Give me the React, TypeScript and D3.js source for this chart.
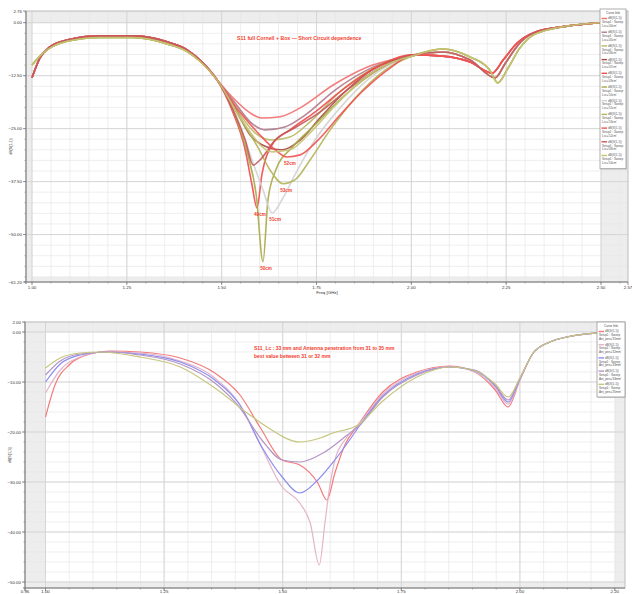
import React from "react";
import * as d3 from "d3";

type Pt = [number, number];

// ---------- top chart: S11 vs short-circuit length ----------
const topXTicks = [1.0, 1.25, 1.5, 1.75, 2.0, 2.25, 2.5];
const topYTicks = [0, -12.5, -25, -37.5, -50];

// shared shoulders of the curves (left part, right part)
const leftRed: Pt[] = [[1.0, -13.0], [1.021, -8.3], [1.047, -5.7], [1.092, -4.1], [1.179, -3.1], [1.266, -3.1], [1.356, -4.5], [1.409, -6.4], [1.451, -9.5]];
const leftOlive: Pt[] = [[1.0, -10.0], [1.029, -7.2], [1.092, -4.4], [1.179, -3.5], [1.266, -3.5], [1.356, -5.0], [1.409, -6.8], [1.443, -9.1]];
const rightA: Pt[] = [[2.083, -7.9], [2.155, -9.3], [2.213, -11.9], [2.242, -8.8], [2.279, -4.8], [2.321, -2.4], [2.41, -0.8], [2.5, 0.0]];
const rightB: Pt[] = [[2.083, -6.9], [2.155, -8.8], [2.221, -13.0], [2.247, -9.7], [2.281, -5.3], [2.323, -2.4], [2.41, -0.8], [2.5, 0.0]];
const rightC: Pt[] = [[2.083, -6.2], [2.155, -8.1], [2.207, -11.2], [2.228, -14.2], [2.255, -10.7], [2.286, -6.0], [2.326, -2.7], [2.41, -0.8], [2.5, 0.0]];

const midS1: Pt[] = [[1.488, -13.5], [1.535, -18.2], [1.575, -21.3], [1.606, -22.5], [1.654, -22.2], [1.707, -20.1], [1.794, -14.7], [1.883, -10.5], [1.97, -8.3], [2.004, -7.6]];
const midS2: Pt[] = [[1.488, -13.5], [1.535, -18.9], [1.575, -23.4], [1.614, -25.3], [1.667, -24.6], [1.72, -21.8], [1.799, -15.9], [1.883, -11.2], [1.97, -8.3], [2.004, -7.6]];
const midS3: Pt[] = [[1.488, -13.5], [1.54, -20.6], [1.588, -26.0], [1.633, -27.7], [1.68, -27.0], [1.733, -23.4], [1.812, -16.3], [1.891, -11.2], [1.97, -8.3], [2.004, -7.8]];
const midS4: Pt[] = [[1.488, -13.5], [1.535, -20.1], [1.575, -26.5], [1.606, -28.8], [1.659, -30.0], [1.707, -27.7], [1.759, -22.5], [1.825, -16.3], [1.896, -11.2], [2.004, -7.8]];
const midS5: Pt[] = [[1.488, -13.5], [1.527, -20.6], [1.562, -30.0], [1.58, -38.3], [1.593, -43.7], [1.606, -35.9], [1.633, -28.8], [1.68, -25.3], [1.746, -21.1], [1.825, -15.4], [1.904, -10.7], [2.004, -7.6]];
const midS6: Pt[] = [[1.488, -13.5], [1.535, -21.8], [1.569, -31.2], [1.591, -40.6], [1.609, -56.4], [1.622, -41.8], [1.643, -34.7], [1.685, -29.5], [1.746, -24.1], [1.825, -17.1], [1.912, -11.2], [2.004, -7.8]];
const midS7: Pt[] = [[1.488, -13.5], [1.543, -22.9], [1.58, -32.4], [1.609, -39.5], [1.633, -44.9], [1.659, -41.8], [1.693, -35.9], [1.746, -27.7], [1.812, -20.1], [1.891, -13.0], [2.004, -7.8]];
const midS8: Pt[] = [[1.488, -13.5], [1.548, -22.5], [1.596, -29.5], [1.627, -34.7], [1.662, -38.0], [1.693, -37.1], [1.733, -32.4], [1.786, -25.3], [1.852, -17.8], [1.931, -11.2], [2.004, -7.8]];
const midS9: Pt[] = [[1.488, -13.5], [1.548, -21.1], [1.601, -26.5], [1.641, -30.0], [1.672, -31.7], [1.707, -31.2], [1.754, -27.7], [1.812, -21.8], [1.87, -16.3], [1.944, -10.7], [2.004, -7.6]];
const midS10: Pt[] = [[1.488, -13.5], [1.53, -20.6], [1.562, -27.7], [1.583, -33.6], [1.601, -32.4], [1.641, -27.7], [1.693, -24.8], [1.759, -21.1], [1.838, -15.4], [1.917, -10.7], [2.004, -7.6]];
const midS11: Pt[] = [[1.488, -13.5], [1.54, -21.1], [1.575, -25.8], [1.601, -28.8], [1.633, -30.5], [1.68, -30.0], [1.733, -26.0], [1.799, -19.6], [1.87, -13.5], [1.944, -9.5], [2.004, -7.8]];

const topLengths = ["44cm", "45cm", "46cm", "47cm", "49cm", "50cm", "51cm", "53cm", "52cm", "48cm", "54cm"];
const topMarked = [false, false, false, false, true, true, true, true, true, false, false];
const topColors = ["#f27070", "#b07a8c", "#b9b964", "#a8483e", "#f04a4a", "#a8a848", "#d2d2d2", "#b2b256", "#f25252", "#c45656", "#c4c474"];

const topSeries: Pt[][] = [
  [...leftRed, ...midS1, ...rightA],
  [...leftRed, ...midS2, ...rightA],
  [...leftOlive, ...midS3, ...rightB],
  [...leftRed, ...midS4, ...rightB],
  [...leftRed, ...midS5, ...rightA],
  [...leftOlive, ...midS6, ...rightC],
  [...leftRed, ...midS7, ...rightB],
  [...leftOlive, ...midS8, ...rightC],
  [...leftRed, ...midS9, ...rightA],
  [...leftRed, ...midS10, ...rightB],
  [...leftOlive, ...midS11, ...rightC],
];

// ---------- bottom chart: antenna penetration 31..35 mm ----------
const botXTicks = [1.0, 1.25, 1.5, 1.75, 2.0];
const botYTicks = [0, -10, -20, -30, -40, -50];

const pen31: Pt[] = [[1.0, -17.0], [1.02, -10.6], [1.052, -6.4], [1.094, -4.4], [1.136, -3.8], [1.199, -4.0], [1.284, -5.2], [1.357, -8.2], [1.41, -12.6], [1.452, -19.0], [1.499, -25.6], [1.536, -26.6], [1.574, -30.2], [1.593, -33.6], [1.61, -28.2], [1.631, -22.6], [1.659, -18.6], [1.711, -12.0], [1.783, -8.0], [1.853, -6.8], [1.905, -8.0], [1.948, -11.6], [1.975, -15.0], [2.0, -9.6], [2.028, -4.2], [2.063, -2.0], [2.099, -1.0], [2.163, -0.2], [2.2, 0.0]];
const pen32: Pt[] = [[1.0, -12.2], [1.031, -7.6], [1.073, -5.0], [1.125, -4.0], [1.199, -4.2], [1.284, -5.8], [1.357, -9.2], [1.41, -14.6], [1.448, -21.6], [1.499, -31.0], [1.536, -34.2], [1.558, -38.2], [1.577, -46.6], [1.589, -38.2], [1.598, -31.6], [1.61, -25.6], [1.631, -21.6], [1.659, -18.6], [1.711, -12.4], [1.783, -8.2], [1.853, -7.0], [1.905, -8.0], [1.948, -11.2], [1.975, -14.4], [2.0, -9.6], [2.028, -4.2], [2.063, -2.0], [2.099, -1.0], [2.163, -0.2], [2.2, 0.0]];
const pen33: Pt[] = [[1.0, -10.0], [1.031, -6.4], [1.073, -4.6], [1.125, -4.0], [1.199, -4.4], [1.284, -6.0], [1.357, -9.6], [1.41, -14.6], [1.456, -23.0], [1.499, -29.0], [1.536, -32.2], [1.574, -29.6], [1.61, -25.6], [1.644, -21.2], [1.663, -18.6], [1.711, -12.8], [1.783, -8.4], [1.853, -7.0], [1.905, -7.8], [1.948, -10.8], [1.975, -14.0], [2.0, -9.4], [2.028, -4.2], [2.063, -2.0], [2.099, -1.0], [2.163, -0.2], [2.2, 0.0]];
const pen34: Pt[] = [[1.0, -8.6], [1.031, -5.8], [1.073, -4.4], [1.142, -4.0], [1.199, -4.6], [1.284, -6.4], [1.357, -10.2], [1.41, -15.2], [1.456, -21.6], [1.499, -25.6], [1.536, -26.0], [1.585, -24.2], [1.636, -20.6], [1.663, -18.6], [1.711, -13.0], [1.783, -8.6], [1.853, -7.0], [1.905, -7.6], [1.948, -10.6], [1.975, -13.6], [2.0, -9.2], [2.028, -4.2], [2.063, -2.0], [2.099, -1.0], [2.163, -0.2], [2.2, 0.0]];
const pen35: Pt[] = [[1.0, -7.2], [1.031, -5.2], [1.073, -4.2], [1.115, -4.0], [1.199, -5.0], [1.284, -7.0], [1.357, -11.2], [1.425, -16.2], [1.467, -19.0], [1.536, -22.0], [1.579, -21.2], [1.606, -20.2], [1.659, -18.6], [1.711, -13.8], [1.783, -9.0], [1.853, -7.0], [1.901, -7.6], [1.948, -10.4], [1.975, -13.0], [2.0, -9.2], [2.028, -4.2], [2.063, -2.0], [2.099, -1.0], [2.163, -0.2], [2.2, 0.0]];

const botSeries = [pen31, pen32, pen33, pen34, pen35];
const botNames = ["31mm", "32mm", "33mm", "34mm", "35mm"];
const botColors = ["#f27a7a", "#e4b4ca", "#8c8cf0", "#b496c6", "#c6c67e"];

const TITLE_RED = "#f4402e";
const FONT = "Liberation Sans, Arial, sans-serif";

interface Frame { x0: number; x1: number; y0: number; y1: number }

function Panel(props: {
  f: Frame;
  x: d3.ScaleLinear<number, number>;
  y: d3.ScaleLinear<number, number>;
  xTicks: number[];
  xMinor: number[];
  yTicks: number[];
  yMinor: number[];
  xEdge: number[];
  yEdge: number[];
  xLabelDy: number;
  xTitle?: string;
  yTitle: string;
  children?: React.ReactNode;
}) {
  const { f, x, y } = props;
  const [dx0, dx1] = x.range();
  const [dy0, dy1] = y.range();
  const band = "#ededed";
  const fmt = d3.format(".2f");
  return (
    <g>
      <rect x={f.x0} y={f.y0} width={f.x1 - f.x0} height={f.y1 - f.y0} fill="#fff" />
      <rect x={f.x0} y={f.y0} width={dx0 - f.x0} height={f.y1 - f.y0} fill={band} />
      <rect x={dx1} y={f.y0} width={f.x1 - dx1} height={f.y1 - f.y0} fill={band} />
      <rect x={f.x0} y={f.y0} width={f.x1 - f.x0} height={dy0 - f.y0} fill={band} />
      <rect x={f.x0} y={dy1} width={f.x1 - f.x0} height={f.y1 - dy1} fill={band} />
      {props.xMinor.map((v, i) => (
        <line key={"xm" + i} x1={x(v)} x2={x(v)} y1={f.y0} y2={f.y1} stroke="#e6e6e6" strokeWidth={0.7} />
      ))}
      {props.yMinor.map((v, i) => (
        <line key={"ym" + i} x1={f.x0} x2={f.x1} y1={y(v)} y2={y(v)} stroke="#e6e6e6" strokeWidth={0.7} />
      ))}
      {props.xTicks.map((v, i) => (
        <line key={"xg" + i} x1={x(v)} x2={x(v)} y1={f.y0} y2={f.y1} stroke="#d4d4d4" strokeWidth={0.9} />
      ))}
      {props.yTicks.map((v, i) => (
        <line key={"yg" + i} x1={f.x0} x2={f.x1} y1={y(v)} y2={y(v)} stroke="#d4d4d4" strokeWidth={0.9} />
      ))}
      <rect x={f.x0} y={f.y0} width={f.x1 - f.x0} height={f.y1 - f.y0} fill="none" stroke="#bdbdbd" strokeWidth={1} />
      {/* axes */}
      <line x1={f.x0} x2={f.x0} y1={f.y0} y2={f.y1 + 2} stroke="#7a7a7a" strokeWidth={1} />
      <line x1={f.x0 - 2} x2={f.x1} y1={f.y1} y2={f.y1} stroke="#7a7a7a" strokeWidth={1} />
      {props.yMinor.map((v, i) => (
        <line key={"ymt" + i} x1={f.x0 - 1.5} x2={f.x0} y1={y(v)} y2={y(v)} stroke="#7a7a7a" strokeWidth={0.6} />
      ))}
      {props.xMinor.map((v, i) => (
        <line key={"xmt" + i} x1={x(v)} x2={x(v)} y1={f.y1} y2={f.y1 + 1.5} stroke="#7a7a7a" strokeWidth={0.6} />
      ))}
      {[...props.yTicks, ...props.yEdge].map((v, i) => (
        <g key={"yl" + i}>
          <line x1={f.x0 - 3} x2={f.x0} y1={y(v)} y2={y(v)} stroke="#7a7a7a" strokeWidth={0.8} />
          <text x={f.x0 - 4} y={y(v) + 1.5} fontSize={4.4} textAnchor="end" fill="#333" fontFamily={FONT}>
            {fmt(v)}
          </text>
        </g>
      ))}
      {[...props.xTicks, ...props.xEdge].map((v, i) => (
        <g key={"xl" + i}>
          <line x1={x(v)} x2={x(v)} y1={f.y1} y2={f.y1 + 3} stroke="#7a7a7a" strokeWidth={0.8} />
          <text x={x(v)} y={f.y1 + props.xLabelDy} fontSize={4.4} textAnchor="middle" fill="#333" fontFamily={FONT}>
            {fmt(v)}
          </text>
        </g>
      ))}
      {props.xTitle && (
        <text x={(f.x0 + f.x1) / 2} y={f.y1 + 12} fontSize={4.4} textAnchor="middle" fill="#333" fontFamily={FONT}>
          {props.xTitle}
        </text>
      )}
      <text
        transform={`translate(${f.x0 - 14},${(f.y0 + f.y1) / 2}) rotate(-90)`}
        fontSize={3.6}
        textAnchor="middle"
        fill="#333"
        fontFamily={FONT}
      >
        {props.yTitle}
      </text>
      {props.children}
    </g>
  );
}

function Legend(props: { x: number; y: number; w: number; step: number; colors: string[]; names: string[]; varName: string }) {
  const { x, y, w, step, colors, names } = props;
  const h = 7 + colors.length * step + 2;
  return (
    <g fontFamily={FONT}>
      <rect x={x + 1} y={y + 1} width={w} height={h} fill="#cfcfcf" />
      <rect x={x} y={y} width={w} height={h} fill="#fff" stroke="#9a9a9a" strokeWidth={0.8} />
      <text x={x + w / 2} y={y + 4.5} fontSize={3} textAnchor="middle" fill="#444">
        Curve Info
      </text>
      {colors.map((c, i) => {
        const ty = y + 7 + i * step;
        return (
          <g key={i}>
            <line x1={x + 1.5} x2={x + 7} y1={ty + 2.5} y2={ty + 2.5} stroke={c} strokeWidth={1.4} />
            <text x={x + 8} y={ty + 3.4} fontSize={3} fill="#555">dB(S(1,1))</text>
            <text x={x + 2} y={ty + 7.2} fontSize={3} fill="#555">Setup1 : Sweep</text>
            <text x={x + 2} y={ty + 11} fontSize={3} fill="#555">{props.varName}='{names[i]}'</text>
          </g>
        );
      })}
    </g>
  );
}

export default function App() {
  // top panel scales
  const tf: Frame = { x0: 26, x1: 628, y0: 11, y1: 282 };
  const tx = d3.scaleLinear().domain([1.0, 2.5]).range([32, 601]);
  const ty = d3.scaleLinear().domain([0, -60]).range([22.7, 276.9]);
  const tLine = d3.line<Pt>().x((d) => tx(d[0])).y((d) => ty(d[1])).curve(d3.curveMonotoneX);

  // bottom panel scales
  const bf: Frame = { x0: 25, x1: 625, y0: 322, y1: 588 };
  const bx = d3.scaleLinear().domain([1.0, 2.2]).range([45.5, 614.8]);
  const by = d3.scaleLinear().domain([0, -50]).range([332, 582]);
  const bLine = d3.line<Pt>().x((d) => bx(d[0])).y((d) => by(d[1])).curve(d3.curveMonotoneX);

  const tMinorX = d3.range(1.0, 2.56, 0.05).filter((v) => tx(v) <= tf.x1);
  const tMinorY = d3.range(2.5, -61, -2.5);
  const bMinorX = d3.range(1.0, 2.23, 0.05).filter((v) => bx(v) <= bf.x1);
  const bMinorY = d3.range(2, -51.5, -2);

  return (
    <svg width={632} height={594} style={{ position: "absolute", left: 0, top: 0, background: "#fff" }}>
      <Panel
        f={tf}
        x={tx}
        y={ty}
        xTicks={topXTicks}
        xMinor={tMinorX}
        yTicks={topYTicks}
        yMinor={tMinorY}
        xEdge={[tx.invert(tf.x1)]}
        yEdge={[ty.invert(tf.y0), ty.invert(tf.y1)]}
        xLabelDy={7}
        xTitle="Freq [GHz]"
        yTitle="dB(S(1,1))"
      >
        {topSeries.map((s, i) => (
          <path key={i} d={tLine(s) ?? ""} fill="none" stroke={topColors[i]} strokeWidth={1.6} strokeOpacity={0.9} />
        ))}
        {topSeries.map((s, i) => {
          if (!topMarked[i]) return null;
          const m = s.reduce((a, b) => (b[1] < a[1] ? b : a));
          return (
            <text key={"l" + i} x={tx(m[0]) + 3} y={ty(m[1]) + 8} fontSize={4.6} fontWeight="bold" textAnchor="middle" fill={TITLE_RED} fontFamily={FONT}>
              {topLengths[i]}
            </text>
          );
        })}
        <text x={237} y={40} fontSize={5.2} fontWeight="bold" fill={TITLE_RED} fontFamily={FONT}>
          S11 full Cornell + Box — Short Circuit dependence
        </text>
        <Legend x={600} y={9} w={26} step={13.7} colors={topColors} names={topLengths} varName="Lsc" />
      </Panel>

      <Panel
        f={bf}
        x={bx}
        y={by}
        xTicks={botXTicks}
        xMinor={bMinorX}
        yTicks={botYTicks}
        yMinor={bMinorY}
        xEdge={[bx.invert(bf.x0), 2.2]}
        yEdge={[by.invert(bf.y0)]}
        xLabelDy={5}
        yTitle="dB(S(1,1))"
      >
        {botSeries.map((s, i) => (
          <path key={i} d={bLine(s) ?? ""} fill="none" stroke={botColors[i]} strokeWidth={1.2} />
        ))}
        <text x={254} y={350} fontSize={5} fontWeight="bold" fill={TITLE_RED} fontFamily={FONT}>
          S11_Lc : 33 mm and Antenna penetration from 31 to 35 mm
        </text>
        <text x={254} y={358} fontSize={5} fontWeight="bold" fill={TITLE_RED} fontFamily={FONT}>
          best value between 31 or 32 mm
        </text>
        <Legend x={597} y={322} w={28} step={13.2} colors={botColors} names={botNames} varName="Ant_pen" />
      </Panel>
    </svg>
  );
}
